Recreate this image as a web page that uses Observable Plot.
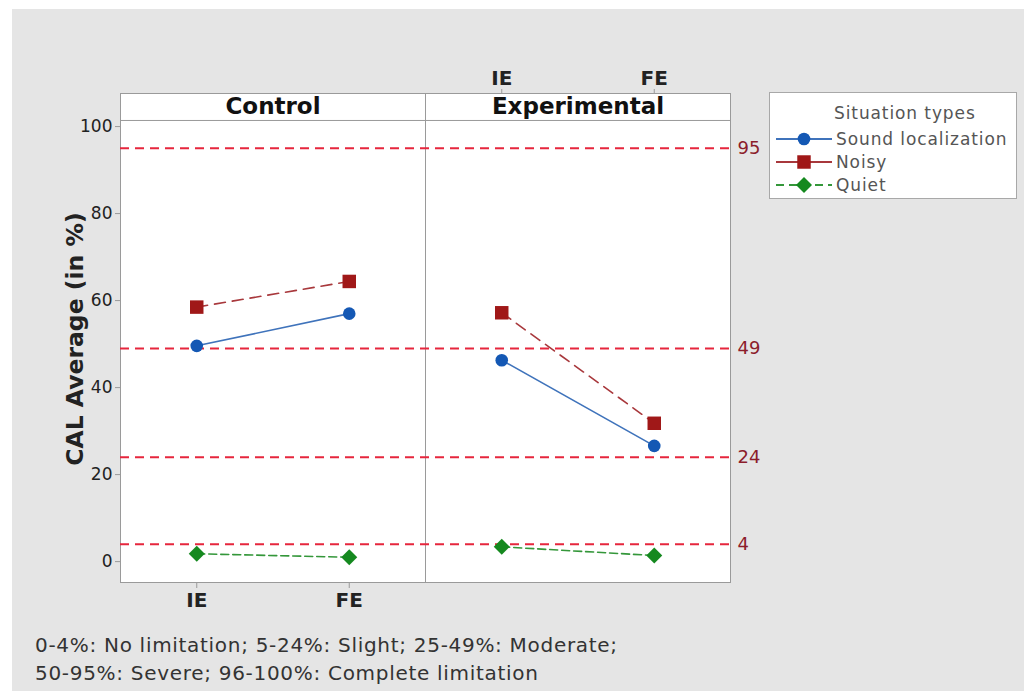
<!DOCTYPE html>
<html><head><meta charset="utf-8">
<script src="https://cdn.jsdelivr.net/npm/d3@7"></script>
<script src="https://cdn.jsdelivr.net/npm/@observablehq/plot@0.6"></script>
<style>
body{margin:0;background:#fff;width:1024px;height:691px;overflow:hidden;}
#bg{position:absolute;left:12px;top:9px;width:1012px;height:682px;background:#e5e5e5;}
#chart{position:absolute;left:0;top:0;}
#legend{position:absolute;left:769px;top:92px;width:248px;height:107px;background:#fff;border:1px solid #a8a8a8;box-sizing:border-box;font-family:"DejaVu Sans";font-size:17px;letter-spacing:0.9px;color:#555;}
#legend .title{position:absolute;left:64px;top:10px;}
#legend .row{position:absolute;left:5px;height:22px;display:flex;align-items:center;}
#legend .row svg{display:block;margin-right:3px;}
#caption{position:absolute;left:35px;top:631px;font-family:"DejaVu Sans";font-size:20px;letter-spacing:0.7px;color:#333;line-height:28px;}
</style></head>
<body>
<div id="bg"></div>
<div id="chart"></div>
<div id="legend"></div>
<div id="caption"></div>
<script>
const categories = ["IE", "FE"];
const groups = ["Control", "Experimental"];
const seriesNames = ["Sound localization", "Noisy", "Quiet"];
// values in order: Control IE, Control FE, Experimental IE, Experimental FE
const soundLocalization = [49.6, 57.0, 46.3, 26.6];
const noisy = [58.5, 64.4, 57.2, 31.8];
const quiet = [1.8, 1.0, 3.4, 1.4];
const refLevels = [95, 49, 24, 4];
const yTicks = [0, 20, 40, 60, 80, 100];
const yTitle = "CAL Average (in %)";
const legendTitle = "Situation types";
const captionLines = [
  "0-4%: No limitation; 5-24%: Slight; 25-49%: Moderate;",
  "50-95%: Severe; 96-100%: Complete limitation"
];

const seriesValues = [soundLocalization, noisy, quiet];
const styles = [
  {line: "#3f73bb", fill: "#1458b4", dash: null, symbol: "circle", r: 6.3},
  {line: "#a8383c", fill: "#a01818", dash: "11,7", symbol: "square", r: 7.6},
  {line: "#34973a", fill: "#15891f", dash: "8,4", symbol: "diamond2", r: 7.2}
];

function rowsFor(values, name) {
  const out = [];
  groups.forEach((g, gi) => categories.forEach((c, ci) => {
    const k = gi * categories.length + ci;
    out.push({series: name, group: g, cat: c, pos: k, value: values[k]});
  }));
  return out;
}

const seriesMarks = [];
seriesValues.forEach((vals, si) => {
  const data = rowsFor(vals, seriesNames[si]);
  const st = styles[si];
  seriesMarks.push(Plot.line(data, {x: "pos", y: "value", z: "group", stroke: st.line, strokeWidth: 1.6, strokeDasharray: st.dash || undefined}));
});
seriesValues.forEach((vals, si) => {
  const data = rowsFor(vals, seriesNames[si]);
  const st = styles[si];
  seriesMarks.push(Plot.dot(data, {x: "pos", y: "value", symbol: () => st.symbol, fill: st.fill, stroke: "none", r: st.r}));
});

const gray = "#9a9a9a";
const chart = Plot.plot({
  width: 1024, height: 625,
  marginLeft: 120, marginRight: 294, marginTop: 93, marginBottom: 43,
  style: {background: "transparent", fontFamily: "DejaVu Sans", overflow: "visible"},
  x: {domain: [-0.5, 3.5], axis: null},
  y: {domain: [-4.8, 107.6], axis: null},
  symbol: {type: "identity"},
  marks: [
    Plot.frame({fill: "white", stroke: gray}),
    Plot.ruleY([101.4], {stroke: gray}),
    Plot.ruleX([1.5], {stroke: gray}),
    Plot.text(groups, {x: (d, i) => i * 2 + 0.5, y: 104.5, text: d => d, fontWeight: "bold", fontSize: 23, fill: "#111"}),
    Plot.ruleY(refLevels, {y: d => d, stroke: "#e6263d", strokeDasharray: "9,6", strokeWidth: 2}),
    Plot.text(refLevels, {y: d => d, text: d => String(d), frameAnchor: "right", textAnchor: "start", dx: 7, fill: "#8c1d2b", fontSize: 18}),
    ...seriesMarks,
    Plot.axisY(yTicks, {anchor: "left", tickSize: 5, tickPadding: 3, fontSize: 17, color: "#222", stroke: gray, label: null}),
    Plot.axisX([0, 1], {anchor: "bottom", tickFormat: i => categories[i % 2], tickSize: 6, tickPadding: 4, fontSize: 20, fontWeight: "bold", color: "#222", stroke: gray, label: null}),
    Plot.axisX([2, 3], {anchor: "top", tickFormat: i => categories[i % 2], tickSize: 5, tickPadding: 4, fontSize: 20, fontWeight: "bold", color: "#222", stroke: gray, label: null}),
    Plot.text([yTitle], {frameAnchor: "left", textAnchor: "middle", rotate: -90, dx: -45, dy: 1, fontWeight: "bold", fontSize: 23.5, fill: "#222", text: d => d})
  ]
});
document.getElementById("chart").appendChild(chart);

// legend
const legend = d3.select("#legend");
legend.append("div").attr("class", "title").text(legendTitle);
const symGen = {circle: d3.symbolCircle, square: d3.symbolSquare, diamond2: d3.symbolDiamond2};
seriesNames.forEach((name, i) => {
  const st = styles[i];
  const row = legend.append("div").attr("class", "row").style("top", (35 + i * 23) + "px");
  const svg = row.append("svg").attr("width", 58).attr("height", 20);
  svg.append("line").attr("x1", 1).attr("x2", 57).attr("y1", 10).attr("y2", 10)
    .attr("stroke", st.line).attr("stroke-width", 1.8)
    .attr("stroke-dasharray", i === 2 ? "8,5" : null);
  svg.append("path").attr("transform", "translate(29,10)")
    .attr("d", d3.symbol(symGen[st.symbol], Math.PI * st.r * st.r)())
    .attr("fill", st.fill);
  row.append("span").text(name);
});

const cap = d3.select("#caption");
captionLines.forEach(t => cap.append("div").text(t));
</script>
</body></html>
